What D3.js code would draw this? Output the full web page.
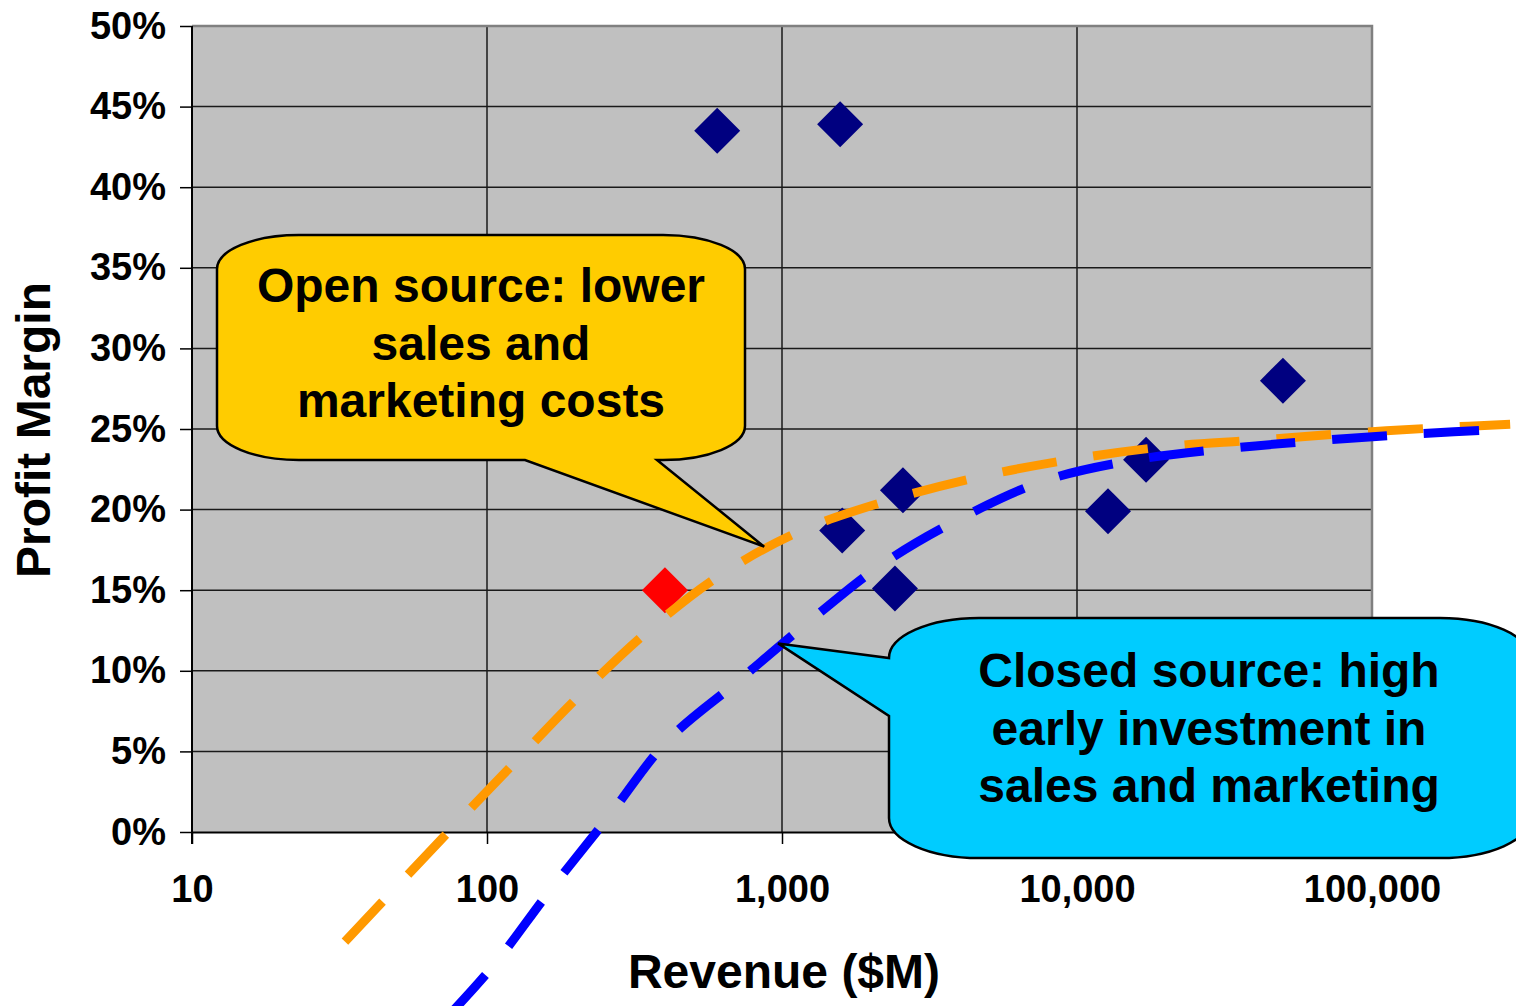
<!DOCTYPE html>
<html>
<head>
<meta charset="utf-8">
<script src="https://cdn.jsdelivr.net/npm/d3@7"></script>
<style>
  html, body { margin: 0; padding: 0; background: #fff; }
  svg { display: block; font-family: "Liberation Sans", Arial, sans-serif; font-weight: bold; }
</style>
</head>
<body>
<svg id="chart" width="1516" height="1006"></svg>
<script>
// companies (revenue in $M, profit margin)
const revenue = [603, 1574, 1600, 2570, 2415, 12740, 17140, 49900];
const margin  = [0.435, 0.439, 0.187, 0.212, 0.151, 0.199, 0.231, 0.280];

// the highlighted (red) company
const redRevenue = [401];
const redMargin  = [0.150];

// hand drawn trend curves
const openRevenue = [33, 73, 124, 199, 338, 602, 1132, 2233, 4580, 9460, 19860, 40100, 78000, 176600, 294000];
const openMargin  = [-0.068, -0.001, 0.043, 0.082, 0.122, 0.158, 0.186, 0.205, 0.220, 0.231, 0.239, 0.243, 0.247, 0.251, 0.253];

const closedRevenue = [74, 105, 164, 257, 411, 704, 1225, 2181, 4074, 7790, 15970, 33000, 68200, 141000, 291000];
const closedMargin  = [-0.114, -0.083, -0.036, 0.009, 0.057, 0.093, 0.130, 0.166, 0.195, 0.218, 0.231, 0.238, 0.243, 0.247, 0.250];

// ticks
const xTicks = [10, 100, 1000, 10000, 100000];
const yTicks = [0, 0.05, 0.10, 0.15, 0.20, 0.25, 0.30, 0.35, 0.40, 0.45, 0.50];

// callout texts and the points they point at
const openText   = ["Open source: lower", "sales and", "marketing costs"];
const openTip    = [870, 0.177];
const closedText = ["Closed source: high", "early investment in", "sales and marketing"];
const closedTip  = [970, 0.117];

const svg = d3.select("#chart");
const pLeft = 192, pRight = 1372, pTop = 26, pBottom = 832;

const x = d3.scaleLog().domain([10, 100000]).range([pLeft, pRight]);
const y = d3.scaleLinear().domain([0, 0.5]).range([pBottom, pTop]);

// plot area
svg.append("rect")
  .attr("x", pLeft).attr("y", pTop)
  .attr("width", pRight - pLeft).attr("height", pBottom - pTop)
  .attr("fill", "#c0c0c0");

// grid
svg.append("g").selectAll("line")
  .data(yTicks.slice(1))
  .join("line")
  .attr("x1", pLeft).attr("x2", pRight)
  .attr("y1", d => y(d)).attr("y2", d => y(d))
  .attr("stroke", "#1a1a1a").attr("stroke-width", 1.5);

svg.append("g").selectAll("line")
  .data(xTicks.slice(1, -1))
  .join("line")
  .attr("x1", d => x(d)).attr("x2", d => x(d))
  .attr("y1", pTop).attr("y2", pBottom)
  .attr("stroke", "#1a1a1a").attr("stroke-width", 1.5);

// top / right border
svg.append("path")
  .attr("d", `M${pLeft},${pTop}H${pRight}V${pBottom}`)
  .attr("fill", "none").attr("stroke", "#808080").attr("stroke-width", 2.5);

// axes
const yAxis = d3.axisLeft(y).tickValues(yTicks).tickFormat(d3.format(".0%"))
  .tickSize(12).tickSizeOuter(0).tickPadding(14);
const xAxis = d3.axisBottom(x).tickValues(xTicks).tickFormat(d3.format(","))
  .tickSize(12).tickSizeOuter(0).tickPadding(31);

const gy = svg.append("g").attr("transform", `translate(${pLeft},0)`).call(yAxis);
const gx = svg.append("g").attr("transform", `translate(0,${pBottom})`).call(xAxis);

[gx, gy].forEach(g => {
  g.select(".domain").attr("stroke", "#000").attr("stroke-width", 2);
  g.selectAll(".tick line").attr("stroke", "#000").attr("stroke-width", 1.5);
  g.selectAll(".tick text")
    .attr("fill", "#000")
    .style("font-family", "'Liberation Sans', Arial, sans-serif")
    .style("font-weight", "bold")
    .style("font-size", "38px");
});
// left axis runs down to the x tick length
gy.select(".domain").attr("d", `M0,${pTop}V${pBottom + 12}`);

// axis titles
svg.append("text")
  .attr("transform", `translate(50,${(pTop + pBottom) / 2 + 1}) rotate(-90)`)
  .attr("text-anchor", "middle")
  .style("font-size", "48px")
  .text("Profit Margin");

svg.append("text")
  .attr("x", 784).attr("y", 988)
  .attr("text-anchor", "middle")
  .style("font-size", "48px")
  .text("Revenue ($M)");

// points
const diamond = d3.symbol().type(d3.symbolSquare).size(1058);

svg.append("g").selectAll("path")
  .data(d3.zip(revenue, margin))
  .join("path")
  .attr("d", diamond)
  .attr("transform", d => `translate(${x(d[0])},${y(d[1])}) rotate(45)`)
  .attr("fill", "#000080");

svg.append("g").selectAll("path")
  .data(d3.zip(redRevenue, redMargin))
  .join("path")
  .attr("d", diamond)
  .attr("transform", d => `translate(${x(d[0])},${y(d[1])}) rotate(45)`)
  .attr("fill", "#ff0000");

// trend curves
const line = d3.line()
  .x(d => x(d[0])).y(d => y(d[1]))
  .curve(d3.curveCatmullRom.alpha(0.5));

svg.append("path")
  .datum(d3.zip(openRevenue, openMargin))
  .attr("d", line)
  .attr("fill", "none")
  .attr("stroke", "#ff9900").attr("stroke-width", 9)
  .attr("stroke-dasharray", "55 37");

svg.append("path")
  .datum(d3.zip(closedRevenue, closedMargin))
  .attr("d", line)
  .attr("fill", "none")
  .attr("stroke", "#0000ff").attr("stroke-width", 9)
  .attr("stroke-dasharray", "55 37");

// callouts: rounded box with a wedge
function callout(box, wedge, fill, lines, cx, baseline) {
  const {x0, y0, x1, y1, rx, ry} = box;
  const a = (px, py) => `A${rx},${ry} 0 0 1 ${px},${py}`;
  let d = `M${x0 + rx},${y0}H${x1 - rx}` + a(x1, y0 + ry) + `V${y1 - ry}` + a(x1 - rx, y1);
  if (wedge.side === "bottom") {
    d += `H${wedge.b1}L${wedge.tx},${wedge.ty}L${wedge.b0},${y1}`;
  }
  d += `H${x0 + rx}` + a(x0, y1 - ry);
  if (wedge.side === "left") {
    d += `V${wedge.b1}L${wedge.tx},${wedge.ty}L${x0},${wedge.b0}`;
  }
  d += `V${y0 + ry}` + a(x0 + rx, y0) + "Z";

  svg.append("path")
    .attr("d", d)
    .attr("fill", fill)
    .attr("stroke", "#000").attr("stroke-width", 2.5)
    .attr("stroke-linejoin", "miter");

  svg.append("g").selectAll("text")
    .data(lines)
    .join("text")
    .attr("x", cx)
    .attr("y", (t, i) => baseline + i * 57.5)
    .attr("text-anchor", "middle")
    .style("font-size", "48px")
    .attr("fill", "#000")
    .text(t => t);
}

callout({x0: 217, y0: 235, x1: 745, y1: 460, rx: 82, ry: 34},
  {side: "bottom", b0: 525, b1: 657, tx: x(openTip[0]), ty: y(openTip[1])},
  "#ffcc00", openText, 481, 302);

callout({x0: 889, y0: 618, x1: 1530, y1: 858, rx: 90, ry: 40},
  {side: "left", b0: 658, b1: 716, tx: x(closedTip[0]), ty: y(closedTip[1])},
  "#00ccff", closedText, 1209, 687);
</script>
</body>
</html>
